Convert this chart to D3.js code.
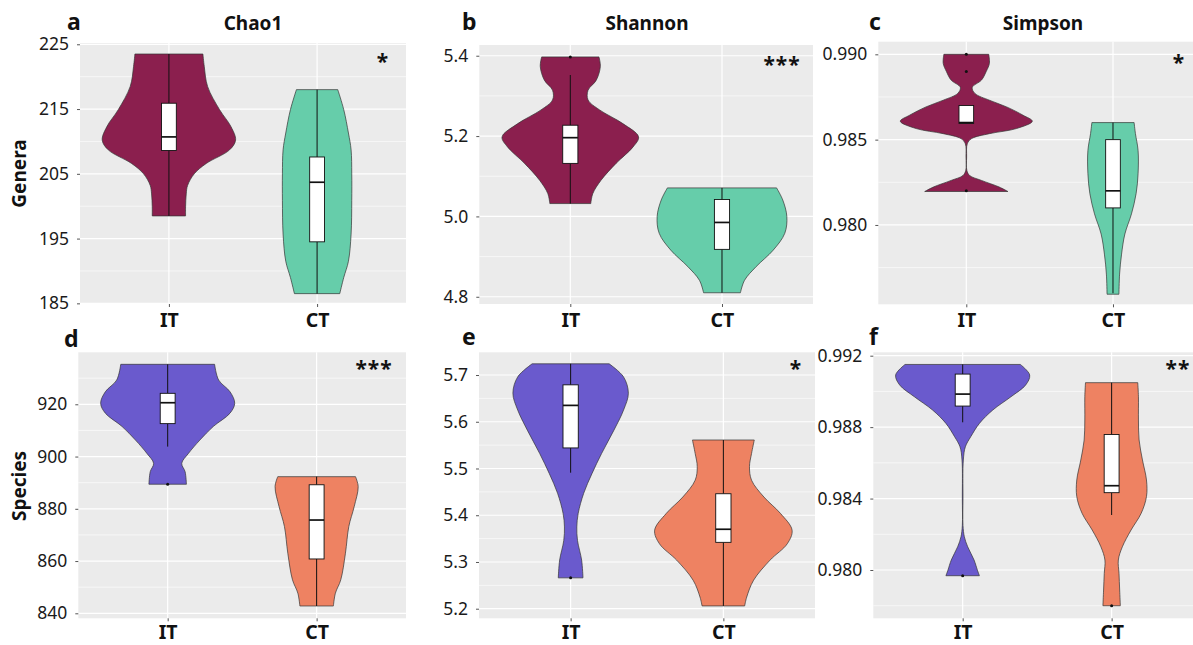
<!DOCTYPE html>
<html>
<head>
<meta charset="utf-8">
<script src="https://cdn.jsdelivr.net/npm/d3@7"></script>
<style>
  html, body { margin: 0; padding: 0; background: #ffffff; }
  svg { display: block; }
</style>
</head>
<body>
<svg id="chart" width="1193" height="645"></svg>
<script>
// ---- data -------------------------------------------------------------
const groups = ["IT", "CT"];

// Violin outlines: [value, relative density]
const chao1ViolinIT = [[223.5,0.51],[221.6,0.53],[218.5,0.58],[214.9,0.76],[212.3,0.93],[210.2,1.0],[208.7,0.91],[206.6,0.56],[205.0,0.38],[203.2,0.28],[201.9,0.26],[199.9,0.25],[198.5,0.25]];
const chao1ViolinCT = [[218.0,0.31],[214.9,0.40],[211.3,0.47],[208.7,0.51],[205.0,0.52],[200.9,0.52],[195.7,0.51],[191.5,0.47],[189.0,0.40],[186.5,0.34]];
// Box summaries: [lower whisker, Q1, median, Q3, upper whisker]
const chao1BoxIT = [198.5, 208.6, 210.7, 215.9, 223.5];
const chao1BoxCT = [186.5, 194.5, 203.7, 207.6, 218.0];
const chao1OutIT = [];
const chao1OutCT = [];
const chao1Ticks = [185, 195, 205, 215, 225];

const shannonViolinIT = [[5.397,0.42],[5.373,0.44],[5.339,0.38],[5.314,0.26],[5.290,0.26],[5.265,0.43],[5.231,0.77],[5.198,1.0],[5.173,0.92],[5.132,0.67],[5.090,0.45],[5.057,0.33],[5.032,0.30]];
const shannonViolinCT = [[5.071,0.80],[5.041,0.89],[5.000,0.95],[4.958,0.92],[4.916,0.75],[4.875,0.50],[4.841,0.33],[4.810,0.27]];
const shannonBoxIT = [5.032, 5.132, 5.196, 5.227, 5.352];
const shannonBoxCT = [4.810, 4.918, 4.985, 5.042, 5.071];
const shannonOutIT = [5.397];
const shannonOutCT = [];
const shannonTicks = [4.8, 5.0, 5.2, 5.4];

const simpsonViolinIT = [[0.99000,0.34],[0.98947,0.35],[0.98898,0.30],[0.98849,0.23],[0.98806,0.09],[0.98771,0.13],[0.98731,0.35],[0.98692,0.61],[0.98643,0.86],[0.98608,1.0],[0.98565,0.76],[0.98535,0.35],[0.98506,0.08],[0.98476,0.015],[0.98398,0.005],[0.98320,0.008],[0.98290,0.05],[0.98261,0.23],[0.98222,0.50],[0.98196,0.63]];
const simpsonViolinCT = [[0.98600,0.32],[0.98535,0.34],[0.98437,0.38],[0.98300,0.38],[0.98183,0.35],[0.98065,0.28],[0.97947,0.18],[0.97829,0.13],[0.97712,0.10],[0.97594,0.09]];
const simpsonBoxIT = [0.98600, 0.98595, 0.98600, 0.98700, 0.98700];
const simpsonBoxCT = [0.97600, 0.98100, 0.98200, 0.98500, 0.98600];
const simpsonOutIT = [0.990, 0.989, 0.982];
const simpsonOutCT = [];
const simpsonTicks = [0.980, 0.985, 0.990];

const speciesViolinIT = [[935.3,0.70],[929.3,0.76],[924.8,0.93],[920.4,1.0],[916.6,0.93],[911.5,0.68],[906.3,0.48],[901.2,0.31],[897.4,0.21],[894.2,0.26],[889.4,0.28]];
const speciesViolinCT = [[892.3,0.58],[888.5,0.62],[880.8,0.56],[873.2,0.48],[863.0,0.43],[852.8,0.36],[847.7,0.28],[842.8,0.25]];
const speciesBoxIT = [903.8, 912.6, 920.6, 924.2, 935.3];
const speciesBoxCT = [842.8, 860.8, 875.7, 889.2, 892.3];
const speciesOutIT = [889.4];
const speciesOutCT = [];
const speciesTicks = [840, 860, 880, 900, 920];

const shannonSpViolinIT = [[5.724,0.56],[5.696,0.77],[5.661,0.84],[5.625,0.77],[5.582,0.63],[5.532,0.45],[5.489,0.31],[5.447,0.19],[5.404,0.11],[5.375,0.09],[5.346,0.10],[5.304,0.16],[5.266,0.18]];
const shannonSpViolinCT = [[5.561,0.45],[5.532,0.41],[5.504,0.38],[5.475,0.41],[5.439,0.59],[5.404,0.83],[5.368,1.0],[5.339,0.93],[5.304,0.68],[5.261,0.44],[5.225,0.34],[5.206,0.31]];
const shannonSpBoxIT = [5.491, 5.544, 5.635, 5.679, 5.724];
const shannonSpBoxCT = [5.206, 5.342, 5.370, 5.446, 5.561];
const shannonSpOutIT = [5.266];
const shannonSpOutCT = [];
const shannonSpTicks = [5.2, 5.3, 5.4, 5.5, 5.6, 5.7];

const simpsonSpViolinIT = [[0.99151,0.86],[0.99092,1.0],[0.99036,0.94],[0.98970,0.72],[0.98896,0.45],[0.98821,0.25],[0.98746,0.12],[0.98690,0.04],[0.98616,0.01],[0.98400,0.005],[0.98250,0.005],[0.98186,0.025],[0.98130,0.075],[0.98056,0.17],[0.97999,0.22],[0.97968,0.25]];
const simpsonSpViolinCT = [[0.99049,0.39],[0.98970,0.40],[0.98840,0.40],[0.98728,0.41],[0.98616,0.46],[0.98504,0.52],[0.98411,0.52],[0.98317,0.44],[0.98224,0.29],[0.98130,0.16],[0.98056,0.10],[0.97981,0.11],[0.97888,0.12],[0.97800,0.13]];
const simpsonSpBoxIT = [0.98827, 0.98918, 0.98985, 0.99097, 0.99151];
const simpsonSpBoxCT = [0.98308, 0.98433, 0.98472, 0.98759, 0.99049];
const simpsonSpOutIT = [0.97968];
const simpsonSpOutCT = [0.978];
const simpsonSpTicks = [0.980, 0.984, 0.988, 0.992];

const panelLetters = ["a", "b", "c", "d", "e", "f"];
const panelTitles = ["Chao1", "Shannon", "Simpson"];
const rowTitles = ["Genera", "Species"];
const significance = ["*", "***", "*", "***", "*", "**"];

// ---- layout -----------------------------------------------------------
const FONT = "'Noto Sans', 'Open Sans', sans-serif";
const topColors = ["#8b1f4e", "#66cdaa"];
const bottomColors = ["#6a5acd", "#ee8262"];

const panels = [
  { rect: [80, 43, 406, 304],      domain: [184.9, 225.2],      ticks: chao1Ticks,   fmt: "d",   xPad: 6, violins: [chao1ViolinIT, chao1ViolinCT],       boxes: [chao1BoxIT, chao1BoxCT],       outs: [chao1OutIT, chao1OutCT],       colors: topColors },
  { rect: [479.3, 45, 813, 304],   domain: [4.782, 5.4267],     ticks: shannonTicks, fmt: ".1f", xPad: 6, violins: [shannonViolinIT, shannonViolinCT],   boxes: [shannonBoxIT, shannonBoxCT],   outs: [shannonOutIT, shannonOutCT],   colors: topColors },
  { rect: [878.3, 41.7, 1201, 304.3], domain: [0.97535, 0.99074], ticks: simpsonTicks, fmt: ".3f", xPad: 6, violins: [simpsonViolinIT, simpsonViolinCT], boxes: [simpsonBoxIT, simpsonBoxCT], outs: [simpsonOutIT, simpsonOutCT], colors: topColors },
  { rect: [78.3, 352.3, 406, 618.3], domain: [838.09, 939.9],   ticks: speciesTicks, fmt: "d",   xPad: 3.5, violins: [speciesViolinIT, speciesViolinCT],   boxes: [speciesBoxIT, speciesBoxCT],   outs: [speciesOutIT, speciesOutCT],   colors: bottomColors },
  { rect: [479, 352.3, 815, 618.3],  domain: [5.1795, 5.7486],  ticks: shannonSpTicks, fmt: ".1f", xPad: 3.5, violins: [shannonSpViolinIT, shannonSpViolinCT], boxes: [shannonSpBoxIT, shannonSpBoxCT], outs: [shannonSpOutIT, shannonSpOutCT], colors: bottomColors },
  { rect: [873.3, 352.3, 1201, 618.3], domain: [0.977296, 0.99219], ticks: simpsonSpTicks, fmt: ".3f", xPad: 3.5, violins: [simpsonSpViolinIT, simpsonSpViolinCT], boxes: [simpsonSpBoxIT, simpsonSpBoxCT], outs: [simpsonSpOutIT, simpsonSpOutCT], colors: bottomColors }
];

// letter / title / significance placement
const letterPos = [[67, 30], [462, 30], [869, 30], [64, 346.5], [462, 345], [869, 345]];
const titlePos = [[253, 30], [647, 30], [1043, 30]];
const sigPos = [[383, 58], [782, 61], [1179, 59], [374, 365], [796, 365], [1178, 365]];

const svg = d3.select("#chart");

panels.forEach((p, i) => {
  const [x0, y0, x1, y1] = p.rect;
  const g = svg.append("g");

  const y = d3.scaleLinear().domain(p.domain).range([y1, y0]);
  const x = d3.scalePoint().domain(groups).range([x0, x1]).padding(0.6);
  const step = x.step();

  // panel background
  g.append("rect")
    .attr("x", x0).attr("y", y0)
    .attr("width", x1 - x0).attr("height", y1 - y0)
    .attr("fill", "#ebebeb");

  // minor grid at half-steps
  const tStep = p.ticks[1] - p.ticks[0];
  const minor = [];
  for (let k = -1; k < p.ticks.length; k++) {
    const v = p.ticks[0] + (k + 0.5) * tStep;
    if (v > p.domain[0] && v < p.domain[1]) minor.push(v);
  }
  g.selectAll(".minor").data(minor).enter().append("line")
    .attr("x1", x0).attr("x2", x1)
    .attr("y1", d => y(d)).attr("y2", d => y(d))
    .attr("stroke", "#ffffff").attr("stroke-width", 0.6);

  // major grid
  g.selectAll(".major").data(p.ticks).enter().append("line")
    .attr("x1", x0).attr("x2", x1)
    .attr("y1", d => y(d)).attr("y2", d => y(d))
    .attr("stroke", "#ffffff").attr("stroke-width", 1.2);
  g.selectAll(".vmajor").data(groups).enter().append("line")
    .attr("x1", d => x(d)).attr("x2", d => x(d))
    .attr("y1", y0).attr("y2", y1)
    .attr("stroke", "#ffffff").attr("stroke-width", 1.2);

  // y axis
  const yAxis = d3.axisLeft(y).tickValues(p.ticks)
    .tickFormat(d3.format(p.fmt)).tickSize(3).tickPadding(8);
  const ya = g.append("g").attr("transform", `translate(${x0},0)`).call(yAxis);
  ya.select(".domain").remove();
  ya.selectAll(".tick line").attr("stroke", "#555");
  ya.selectAll(".tick text")
    .attr("font-family", FONT).attr("font-size", 17.5).attr("fill", "#1a1a1a");

  // x axis
  const xAxis = d3.axisBottom(x).tickSize(3).tickPadding(p.xPad);
  const xa = g.append("g").attr("transform", `translate(0,${y1})`).call(xAxis);
  xa.select(".domain").remove();
  xa.selectAll(".tick line").attr("stroke", "#555");
  xa.selectAll(".tick text")
    .attr("font-family", FONT).attr("font-size", 19.5).attr("font-weight", "bold").attr("fill", "#111");

  // violins, boxes and outliers
  const plot = g.append("g");
  groups.forEach((grp, j) => {
    const cx = x(grp);
    const hw = dens => 0.45 * step * dens;
    const area = d3.area()
      .curve(d3.curveCatmullRom.alpha(0.5))
      .y(d => y(d[0]))
      .x0(d => cx - hw(d[1]))
      .x1(d => cx + hw(d[1]));
    plot.append("path")
      .attr("d", area(p.violins[j]))
      .attr("fill", p.colors[j])
      .attr("stroke", "#333").attr("stroke-width", 0.7);

    const [lo, q1, med, q3, hi] = p.boxes[j];
    const bw = 0.1 * step;
    // whiskers
    plot.append("line")
      .attr("x1", cx).attr("x2", cx)
      .attr("y1", y(lo)).attr("y2", y(q1))
      .attr("stroke", "#111").attr("stroke-width", 1);
    plot.append("line")
      .attr("x1", cx).attr("x2", cx)
      .attr("y1", y(q3)).attr("y2", y(hi))
      .attr("stroke", "#111").attr("stroke-width", 1);
    // box
    plot.append("rect")
      .attr("x", cx - bw / 2).attr("y", y(q3))
      .attr("width", bw).attr("height", Math.max(0.5, y(q1) - y(q3)))
      .attr("fill", "#ffffff").attr("stroke", "#111").attr("stroke-width", 0.9);
    plot.append("line")
      .attr("x1", cx - bw / 2).attr("x2", cx + bw / 2)
      .attr("y1", y(med)).attr("y2", y(med))
      .attr("stroke", "#111").attr("stroke-width", 1.7);
    // outliers
    plot.selectAll(null).data(p.outs[j]).enter().append("circle")
      .attr("cx", cx).attr("cy", d => y(d)).attr("r", 1.5)
      .attr("fill", "#111");
  });

  // panel letter
  svg.append("text")
    .attr("x", letterPos[i][0]).attr("y", letterPos[i][1])
    .attr("font-family", FONT).attr("font-size", 23).attr("font-weight", "bold")
    .attr("fill", "#111").text(panelLetters[i]);

  // significance stars
  svg.append("text")
    .attr("x", sigPos[i][0]).attr("y", sigPos[i][1] + 11)
    .attr("text-anchor", "middle")
    .attr("font-family", FONT).attr("font-size", 21).attr("font-weight", "bold")
    .attr("letter-spacing", 1)
    .attr("fill", "#111").text(significance[i]);
});

// column titles
panelTitles.forEach((t, i) => {
  svg.append("text")
    .attr("x", titlePos[i][0]).attr("y", titlePos[i][1])
    .attr("text-anchor", "middle")
    .attr("font-family", FONT).attr("font-size", 19).attr("font-weight", "bold")
    .attr("fill", "#111").text(t);
});

// row titles
const rowCenters = [173.5, 486];
rowTitles.forEach((t, i) => {
  svg.append("text")
    .attr("transform", `translate(26,${rowCenters[i]}) rotate(-90)`)
    .attr("text-anchor", "middle")
    .attr("font-family", FONT).attr("font-size", 19).attr("font-weight", "bold")
    .attr("fill", "#111").text(t);
});
</script>
</body>
</html>
